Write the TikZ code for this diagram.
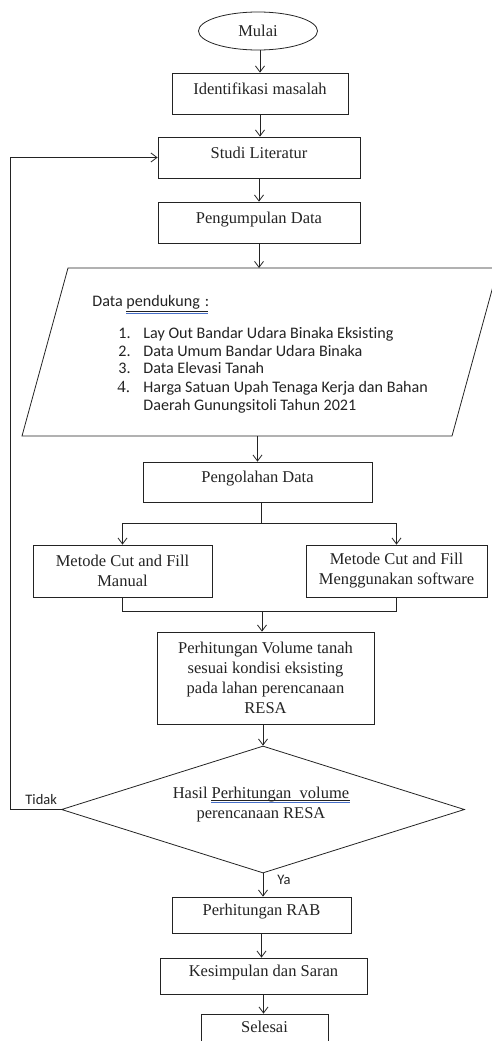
\documentclass[tikz,border=0pt]{standalone}
\usepackage{fontspec}
\setmainfont{Liberation Serif}
\newfontfamily\sansfnt[Ligatures=NoCommon]{Carlito}
\usetikzlibrary{arrows.meta,shapes.geometric}
\definecolor{ink}{RGB}{35,35,35}
\definecolor{spell}{RGB}{70,110,200}
\begin{document}
\begin{tikzpicture}[x=1pt,y=-1pt, line width=0.8pt, draw=ink, text=ink,
  >={Straight Barb[length=6pt,width=9pt]},
  box/.style={draw, rectangle, inner sep=0pt, font=\fontsize{16.5}{20}\selectfont, align=center},
  single/.style={box, text height=11pt, text depth=10pt},
  sans/.style={font=\sansfnt\fontsize{16.1}{18}\selectfont, inner sep=0pt},
  lbl/.style={font=\sansfnt\fontsize{14.5}{17}\selectfont, inner sep=0pt},
  txt/.style={font=\fontsize{16.5}{20}\selectfont, inner sep=0pt, anchor=base}]
\clip (0,0) rectangle (492,1041);
% nodes
\node[box, ellipse, minimum width=119pt, minimum height=38pt] (mulai) at (258,31) {Mulai};
\node[single, minimum width=176pt, minimum height=41pt] (ident) at (260,93.5) {Identifikasi masalah};
\node[single, minimum width=202pt, minimum height=41pt] (studi) at (259,157.5) {Studi Literatur};
\node[single, minimum width=202pt, minimum height=41pt] (kumpul) at (259,222.5) {Pengumpulan Data};
% parallelogram
\coordinate (partop) at (260,268);
\coordinate (parbot) at (258,436);
\draw (68,268) -- (498,268) -- (452,436) -- (22,436) -- cycle;
\node[sans, anchor=base west] (dp) at (92,306) {Data pendukung\hspace{5pt}:};
\draw[line width=0.5pt, ink] (126,311.5) -- (208,311.5);
\draw[line width=0.7pt, spell] (126,313.5) -- (208,313.5);
\node[sans, anchor=base west] (n1) at (118,338) {1.};
\node[sans, anchor=base west] (t1) at (143,338) {Lay Out Bandar Udara Binaka Eksisting};
\node[sans, anchor=base west] (n2) at (118,356) {2.};
\node[sans, anchor=base west] (t2) at (143,356) {Data Umum Bandar Udara Binaka};
\node[sans, anchor=base west] (n3) at (118,373.5) {3.};
\node[sans, anchor=base west] (t3) at (143,373.5) {Data Elevasi Tanah};
\node[font=\fontsize{17}{20}\selectfont, inner sep=0pt, anchor=base west] (n4) at (117,392) {4.};
\node[sans, anchor=base west] (t4) at (143,392) {Harga Satuan Upah Tenaga Kerja dan Bahan};
\node[sans, anchor=base west] (t5) at (143,410) {Daerah Gunungsitoli Tahun 2021};
% processing
\node[single, minimum width=229pt, minimum height=40pt] (olah) at (257.5,482) {Pengolahan Data};
\node[box, minimum width=179pt, minimum height=52pt] (manual) at (122.5,571) {Metode Cut and Fill\\Manual};
\node[box, minimum width=181pt, minimum height=52pt] (soft) at (396.5,571) {Metode Cut and Fill\\Menggunakan software};
\node[box, minimum width=217pt, minimum height=92pt] (vol) at (265.5,678) {Perhitungan Volume tanah\\sesuai kondisi eksisting\\pada lahan perencanaan\\RESA};
\node[draw, diamond, aspect=3.2, inner sep=0pt, minimum width=403pt, minimum height=127pt] (diam) at (263,809.5) {};
\node[txt] (d1) at (261,798) {Hasil Perhitungan\ \ volume};
\node[txt] (d2) at (261,818) {perencanaan RESA};
\draw[line width=0.5pt, ink] (211,800.5) -- (350,800.5);
\draw[line width=0.7pt, spell] (211,802.5) -- (350,802.5);
\node[single, minimum width=179pt, minimum height=36pt] (rab) at (261.5,915) {Perhitungan RAB};
\node[single, minimum width=207pt, minimum height=36pt] (kes) at (263.5,976) {Kesimpulan dan Saran};
\node[single, minimum width=127pt, minimum height=36pt] (sel) at (264.5,1032) {Selesai};
\node[lbl, anchor=base west] (tidak) at (25,804) {Tidak};
\node[lbl, anchor=base west] (ya) at (277,884) {Ya};
% connectors
\draw[->] (mulai.south -| ident.north) -- (ident.north);
\draw[->] (ident.south) -- (ident.south |- studi.north);
\draw[->] (studi.south) -- (studi.south |- kumpul.north);
\draw[->] (kumpul.south) -- (kumpul.south |- partop);
\draw[->] (olah.north |- parbot) -- (olah.north);
\coordinate (sp) at (261,523);
\draw (olah.south -| sp) -- (sp);
\draw (manual.north |- sp) -- (soft.north |- sp);
\draw[->] (manual.north |- sp) -- (manual.north);
\draw[->] (soft.north |- sp) -- (soft.north);
\coordinate (mg) at (262,611);
\draw (manual.south) -- (manual.south |- mg) -- (soft.south |- mg) -- (soft.south);
\draw[->] (mg) -- (mg |- vol.north);
\draw[->] (diam.north |- vol.south) -- (diam.north);
\coordinate (fb) at (10,809.5);
\draw[->] (diam.west) -- (fb) |- (studi.west);
\draw[->] (diam.south) -- (diam.south |- rab.north);
\draw[->] (rab.south) -- (rab.south |- kes.north);
\draw[->] (kes.south) -- (kes.south |- sel.north);
\end{tikzpicture}
\end{document}
